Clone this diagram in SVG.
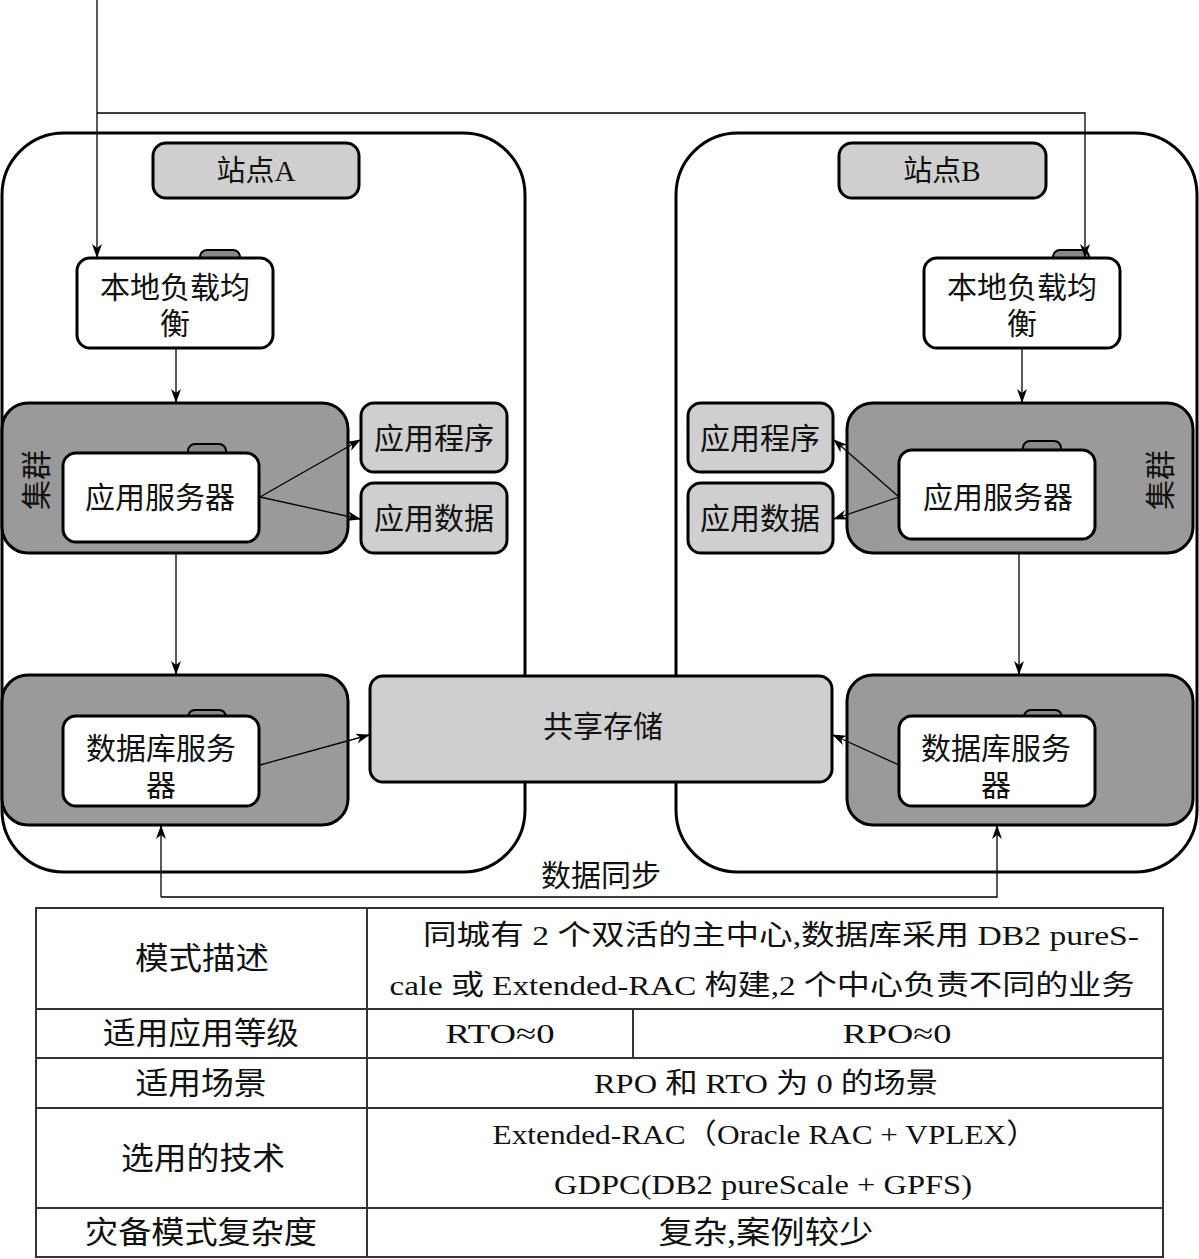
<svg xmlns="http://www.w3.org/2000/svg" width="1199" height="1259" viewBox="0 0 1199 1259">
<style>
text{font-family:"Liberation Serif","Noto Sans CJK SC",serif;fill:#111;text-anchor:middle;dominant-baseline:central}
.site{fill:#fff;stroke:#000;stroke-width:3}
.lbl{fill:#cfcfcf;stroke:#000;stroke-width:3}
.clu{fill:#9a9a9a;stroke:#000;stroke-width:3}
.wn{fill:#fff;stroke:#000;stroke-width:3}
.tab{fill:#888;stroke:#000;stroke-width:2}
.c{fill:none;stroke:#000;stroke-width:1.3}
.t{font-size:28px}
.h{font-size:31px}
.n{font-size:30px}
.tb{fill:none;stroke:#333;stroke-width:2}
</style>
<defs>
<marker id="ah" viewBox="0 0 14 10" refX="13" refY="5" markerWidth="14" markerHeight="10" markerUnits="userSpaceOnUse" orient="auto">
<path d="M0,0 L14,5 L0,10 L4,5 z" fill="#000"/>
</marker>
</defs>
<g id="siteA">
<rect class="site" x="2" y="133" width="523" height="739" rx="62"/>
</g>
<g id="siteB">
<rect class="site" x="676" y="133" width="521" height="739" rx="62"/>
</g>
<g id="labelA"><rect class="lbl" x="153" y="143" width="206" height="55" rx="13"/><text x="256" y="171" font-size="29">站点A</text></g>
<g id="labelB"><rect class="lbl" x="839" y="143" width="207" height="55" rx="13"/><text x="942" y="171" font-size="29">站点B</text></g>
<g id="lbA"><rect class="tab" x="200" y="250" width="40" height="16" rx="7"/><rect class="wn" x="77" y="258" width="196" height="90" rx="13"/><text class="n" x="175" y="287">本地负载均</text><text class="n" x="175" y="323">衡</text></g>
<g id="lbB"><rect class="tab" x="1053" y="250" width="36" height="16" rx="7"/><rect class="wn" x="924" y="258" width="196" height="90" rx="13"/><text class="n" x="1022" y="287">本地负载均</text><text class="n" x="1022" y="323">衡</text></g>
<g id="appClusterA"><rect class="clu" x="2" y="403" width="346" height="150" rx="26"/><text class="n" transform="translate(36,480) rotate(-90)">集群</text></g>
<g id="appServerA"><rect class="tab" x="188" y="444" width="38" height="16" rx="7"/><rect class="wn" x="63" y="453" width="196" height="89" rx="13"/><text class="n" x="160" y="497">应用服务器</text></g>
<g id="appProgA"><rect class="lbl" x="361" y="403" width="146" height="69" rx="13"/><text class="n" x="434" y="438">应用程序</text></g>
<g id="appDataA"><rect class="lbl" x="361" y="483" width="146" height="70" rx="13"/><text class="n" x="434" y="518">应用数据</text></g>
<g id="appClusterB"><rect class="clu" x="847" y="403" width="346" height="150" rx="26"/><text class="n" transform="translate(1160,480) rotate(-90)">集群</text></g>
<g id="appServerB"><rect class="tab" x="1023" y="441" width="38" height="16" rx="7"/><rect class="wn" x="899" y="450" width="196" height="89" rx="13"/><text class="n" x="998" y="497">应用服务器</text></g>
<g id="appProgB"><rect class="lbl" x="688" y="403" width="145" height="69" rx="13"/><text class="n" x="760" y="438">应用程序</text></g>
<g id="appDataB"><rect class="lbl" x="688" y="483" width="145" height="70" rx="13"/><text class="n" x="760" y="518">应用数据</text></g>
<g id="dbClusterA"><rect class="clu" x="2" y="675" width="346" height="150" rx="26"/></g>
<g id="dbServerA"><rect class="tab" x="188" y="710" width="38" height="16" rx="7"/><rect class="wn" x="63" y="716" width="196" height="90" rx="13"/><text class="n" x="161" y="748">数据库服务</text><text class="n" x="161" y="785">器</text></g>
<g id="storage"><rect class="lbl" x="370" y="676" width="462" height="106" rx="13"/><text class="n" x="603" y="726">共享存储</text></g>
<g id="dbClusterB"><rect class="clu" x="847" y="675" width="346" height="150" rx="26"/></g>
<g id="dbServerB"><rect class="tab" x="1024" y="710" width="38" height="16" rx="7"/><rect class="wn" x="899" y="716" width="196" height="90" rx="13"/><text class="n" x="996" y="748">数据库服务</text><text class="n" x="996" y="785">器</text></g>
<g id="connectors">
<path class="c" d="M97,0 V257" marker-end="url(#ah)"/>
<path class="c" d="M97,113 H1085 V257" marker-end="url(#ah)"/>
<path class="c" d="M176,348 V402" marker-end="url(#ah)"/>
<path class="c" d="M1022,348 V402" marker-end="url(#ah)"/>
<path class="c" d="M260,497 L360,440" marker-end="url(#ah)"/>
<path class="c" d="M260,497 L360,519" marker-end="url(#ah)"/>
<path class="c" d="M899,497 L834,440" marker-end="url(#ah)"/>
<path class="c" d="M899,497 L834,519" marker-end="url(#ah)"/>
<path class="c" d="M176,553 V674" marker-end="url(#ah)"/>
<path class="c" d="M1019,553 V674" marker-end="url(#ah)"/>
<path class="c" d="M260,765 L369,735" marker-end="url(#ah)"/>
<path class="c" d="M899,765 L833,735" marker-end="url(#ah)"/>
<path class="c" d="M161,897 H997 V826" marker-end="url(#ah)"/>
<path class="c" d="M161,897 V826" marker-end="url(#ah)"/>
<text class="n" x="601" y="875">数据同步</text>
</g>
<g id="table">
<rect class="tb" x="36" y="908" width="1127" height="349" stroke-width="3"/>
<path class="tb" d="M36,1009 H1163 M36,1058 H1163 M36,1108 H1163 M36,1208 H1163 M367,908 V1257 M633,1009 V1058"/>
<text class="h" x="202" y="958" textLength="134" lengthAdjust="spacingAndGlyphs">模式描述</text>
<text class="t" x="781" y="935" textLength="716" lengthAdjust="spacingAndGlyphs">同城有 2 个双活的主中心,数据库采用 DB2 pureS-</text>
<text class="t" x="762" y="985" textLength="745" lengthAdjust="spacingAndGlyphs">cale 或 Extended-RAC 构建,2 个中心负责不同的业务</text>
<text class="h" x="201" y="1033" textLength="196" lengthAdjust="spacingAndGlyphs">适用应用等级</text>
<text class="t" x="500" y="1033" textLength="109" lengthAdjust="spacingAndGlyphs">RTO≈0</text>
<text class="t" x="897" y="1033" textLength="109" lengthAdjust="spacingAndGlyphs">RPO≈0</text>
<text class="h" x="201" y="1083" textLength="131" lengthAdjust="spacingAndGlyphs">适用场景</text>
<text class="t" x="766" y="1083" textLength="344" lengthAdjust="spacingAndGlyphs">RPO 和 RTO 为 0 的场景</text>
<text class="h" x="203" y="1158" textLength="164" lengthAdjust="spacingAndGlyphs">选用的技术</text>
<text class="t" x="765" y="1134" textLength="545" lengthAdjust="spacingAndGlyphs">Extended-RAC（Oracle RAC +  VPLEX）</text>
<text class="t" x="763" y="1184" textLength="418" lengthAdjust="spacingAndGlyphs">GDPC(DB2 pureScale + GPFS)</text>
<text class="h" x="201" y="1232" textLength="232" lengthAdjust="spacingAndGlyphs">灾备模式复杂度</text>
<text class="h" x="766" y="1232" textLength="215" lengthAdjust="spacingAndGlyphs">复杂,案例较少</text>
</g>
</svg>
